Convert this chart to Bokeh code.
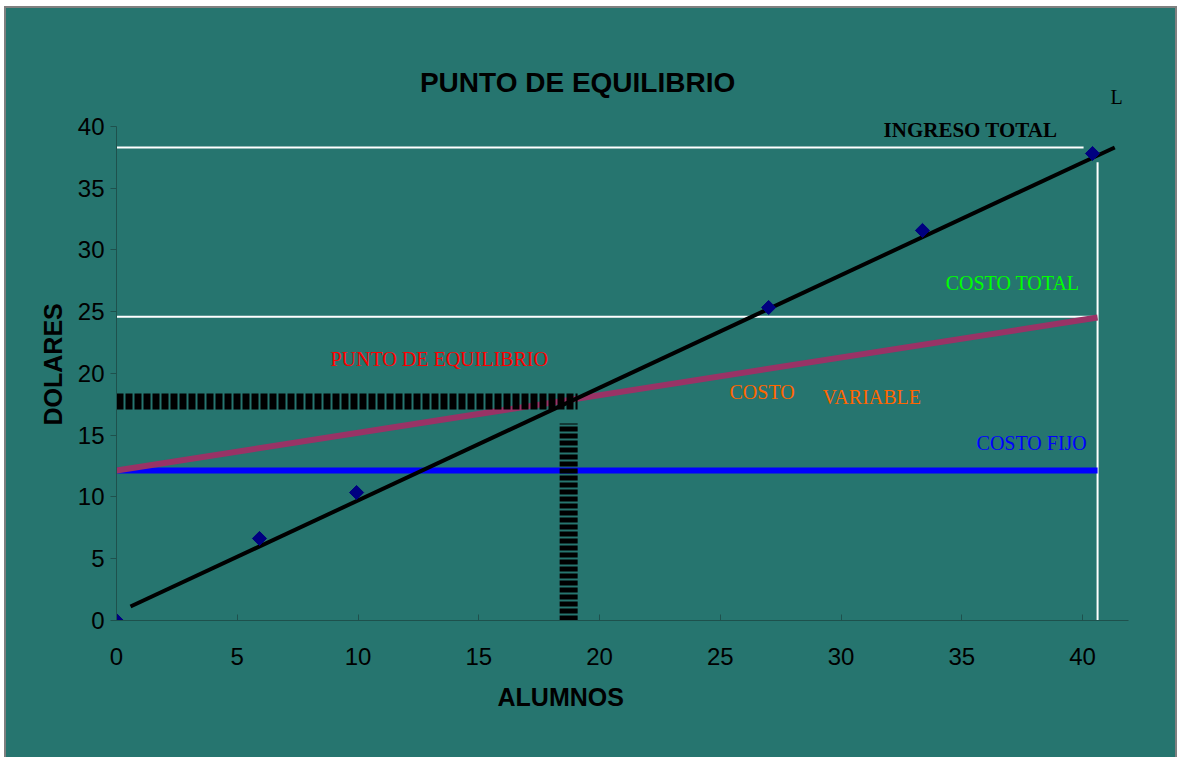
import numpy as np
from bokeh.plotting import figure
from bokeh.models import Label, FixedTicker, Range1d, Title
from bokeh.layouts import column
from bokeh.embed import file_html
from bokeh.resources import INLINE

# ---- data ----
x_ticks = [0, 5, 10, 15, 20, 25, 30, 35, 40]
y_ticks = [0, 5, 10, 15, 20, 25, 30, 35, 40]

alumnos_obs = [0, 5.92, 9.94, 27.0, 33.37, 40.41]
ingreso_obs = [0, 6.64, 10.36, 25.34, 31.58, 37.81]

ingreso_x = [0.58, 41.33]
ingreso_y = [1.13, 38.3]

costo_total_x = [0, 40.62]
costo_total_y = [12.15, 24.53]

costo_fijo_x = [0, 40.62]
costo_fijo_y = [12.15, 12.15]

ref_ingreso_x = [0, 40.04]
ref_ingreso_y = [38.3, 38.3]
ref_costo_x = [0, 40.62]
ref_costo_y = [24.6, 24.6]
ref_vert_x = [40.62, 40.62]
ref_vert_y = [0, 37.1]

equil_h_x = [0, 19.09]
equil_h_y = [17.73, 17.73]
equil_v_x = [18.72, 18.72]
equil_v_y = [0, 15.95]

TEAL = "#26756F"
AXIS = "#1E514D"

p = figure(width=1169, height=749, output_backend="svg", toolbar_location=None,
           x_range=Range1d(0, 41.9), y_range=Range1d(0, 49.55),
           min_border_left=110, min_border_right=47, min_border_top=0, min_border_bottom=137,
           background_fill_alpha=0, border_fill_alpha=0, outline_line_color=None,
           margin=(2, 2, 0, 2), styles={"background-color": TEAL})
p.xgrid.visible = False
p.ygrid.visible = False

for ax in (p.xaxis[0], p.yaxis[0]):
    ax.axis_line_color = AXIS
    ax.major_tick_line_color = AXIS
    ax.minor_tick_line_color = None
    ax.major_label_text_font = "Liberation Sans"
    ax.major_label_text_font_size = "24px"
    ax.major_label_text_color = "black"

p.xaxis.ticker = FixedTicker(ticks=x_ticks)
p.yaxis.ticker = FixedTicker(ticks=y_ticks)
p.yaxis.bounds = (0, 40)
p.xaxis.major_tick_in = 6
p.xaxis.major_tick_out = 0
p.xaxis.major_label_standoff = 27
p.yaxis.major_tick_in = 0
p.yaxis.major_tick_out = 6
p.yaxis.major_label_standoff = 6

# white reference lines
p.line(ref_ingreso_x, ref_ingreso_y, line_color="white", line_width=2)
p.line(ref_costo_x, ref_costo_y, line_color="white", line_width=2)
p.line(ref_vert_x, ref_vert_y, line_color="white", line_width=2)

# costo fijo and costo total
p.line(costo_fijo_x, costo_fijo_y, line_color="#0000FF", line_width=6)
p.line(costo_total_x, costo_total_y, line_color="#993366", line_width=6)

# equilibrium dashed marks
p.line(equil_h_x, equil_h_y, line_color="black", line_width=16, line_dash="7 2")
p.line(equil_v_x, equil_v_y, line_color="black", line_width=18, line_dash="5 2")

# ingreso total
p.line(ingreso_x, ingreso_y, line_color="black", line_width=4)
p.scatter(alumnos_obs, ingreso_obs, marker="square", angle=np.pi / 4, size=10,
          fill_color="#000080", line_color="#000080")

serif = "Liberation Serif"
sans = "Liberation Sans"
labels = [
    dict(x=31.76, y=39.68, text="INGRESO TOTAL", text_color="black", text_font=serif,
         text_font_style="bold", text_font_size="21px"),
    dict(x=34.33, y=27.29, text="COSTO TOTAL", text_color="#00FF00", text_font=serif,
         text_font_size="20px"),
    dict(x=8.86, y=21.21, text="PUNTO DE EQUILIBRIO", text_color="#FF0000", text_font=serif,
         text_font_size="20px"),
    dict(x=25.38, y=18.54, text="COSTO", text_color="#FF6600", text_font=serif,
         text_font_size="20px"),
    dict(x=29.23, y=18.06, text="VARIABLE", text_color="#FF6600", text_font=serif,
         text_font_size="20px"),
    dict(x=35.61, y=14.41, text="COSTO FIJO", text_color="#0000FF", text_font=serif,
         text_font_size="20px"),
]
for d in labels:
    p.add_layout(Label(text_baseline="middle", text_align="left", **d))

p.add_layout(Label(x=41.41, y=42.35, text="L", text_font=serif, text_font_size="20px",
                   text_color="black", text_baseline="middle", text_align="center"))
p.add_layout(Label(x=19.09, y=43.56, text="PUNTO DE EQUILIBRIO", text_font=sans,
                   text_font_style="bold", text_font_size="28px", text_color="black",
                   text_baseline="middle", text_align="center"))

p.add_layout(Title(text="DOLARES", text_font=sans, text_font_style="bold",
                   text_font_size="25px", text_color="black", align="left",
                   offset=195, standoff=15), "left")
p.add_layout(Title(text="ALUMNOS", text_font=sans, text_font_style="bold",
                   text_font_size="25px", text_color="black", align="left",
                   offset=381, standoff=26), "below")

lay = column(p, margin=(6, 0, 0, 4), styles={"background-color": "#808080"})

open("out.html", "w").write(file_html(lay, INLINE))
